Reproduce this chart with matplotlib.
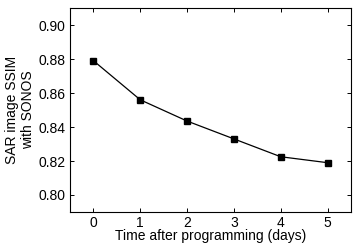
import matplotlib
matplotlib.use("Agg")
import matplotlib.pyplot as plt

days = [0, 1, 2, 3, 4, 5]
ssim = [0.879, 0.856, 0.8435, 0.833, 0.8225, 0.819]
y_ticks = [0.80, 0.82, 0.84, 0.86, 0.88, 0.90]

plt.rcParams['font.family'] = ['Liberation Sans', 'DejaVu Sans']
plt.rcParams['font.size'] = 10

fig = plt.figure(figsize=(3.56, 2.46), dpi=100)
ax = fig.add_axes([70/356, 1 - 212/246, 281/356, 204/246])

ax.plot(days, ssim, color='black', lw=0.9, marker='s', ms=4.8, mfc='black', mec='black')

ax.set_xlim(-0.5, 5.5)
ax.set_ylim(0.79, 0.91)
ax.set_xticks(days)
ax.set_yticks(y_ticks)
ax.set_yticklabels([f"{v:.2f}" for v in y_ticks])
ax.tick_params(direction='in', top=True, right=True, length=3, width=0.7, pad=3)
for s in ax.spines.values():
    s.set_linewidth(0.8)

ax.set_xlabel("Time after programming (days)", labelpad=-1)
ax.set_ylabel("SAR image SSIM\nwith SONOS", labelpad=3, linespacing=1.1)

fig.savefig("out.png", dpi=100)
